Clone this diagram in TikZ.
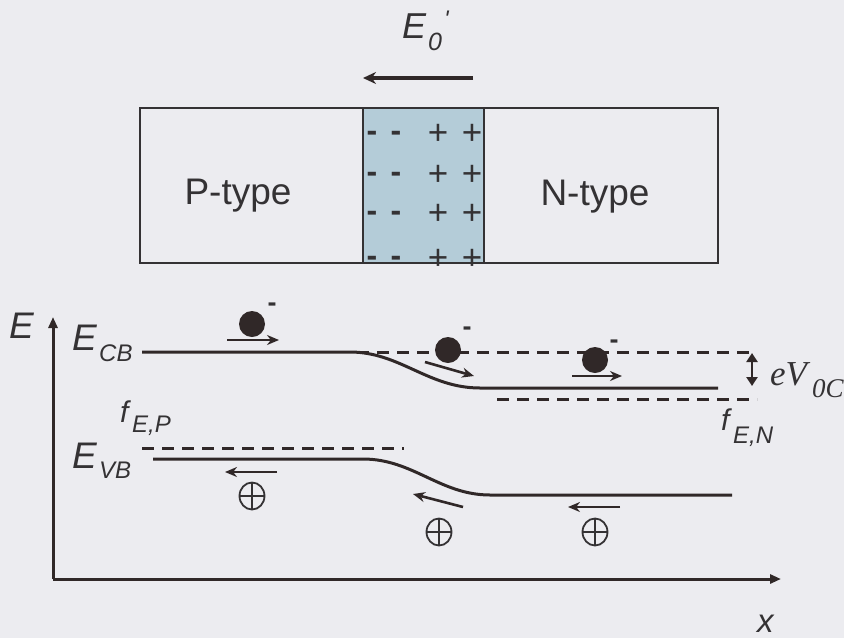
\documentclass[tikz,border=0pt]{standalone}
\usepackage{fontspec}
\setmainfont{Liberation Sans}
\newfontfamily\tnr{Liberation Serif}
\usetikzlibrary{arrows.meta,shapes.geometric}
\definecolor{bg}{RGB}{236,236,240}
\definecolor{ink}{RGB}{48,40,40}
\definecolor{txt}{RGB}{52,50,52}
\definecolor{depl}{RGB}{180,204,216}
\tikzset{
  band/.style={ink, line width=3pt},
  fermi/.style={ink, line width=3pt, dash pattern=on 12pt off 8pt},
  lbl/.style={inner sep=0pt, anchor=base west, text=txt},
  ctr/.style={inner sep=0pt, anchor=base, text=txt},
  bigit/.style={lbl, font=\fontsize{37}{37}\selectfont\itshape},
  midit/.style={lbl, font=\fontsize{30}{30}\selectfont\itshape},
  subit/.style={lbl, font=\fontsize{24}{24}\selectfont\itshape},
  chg/.style={ctr, font=\fontsize{35}{35}\selectfont},
  mchg/.style={ctr, font=\fontsize{32}{32}\selectfont\bfseries},
  emin/.style={ctr, font=\fontsize{27}{27}\selectfont\bfseries},
  elec/.style={circle, fill=ink, minimum size=26pt, inner sep=0pt},
  hole/.style={ellipse, draw=txt, line width=1.8pt, minimum width=25pt, minimum height=27pt, inner sep=0pt,
    path picture={\draw[txt, line width=1.8pt] (path picture bounding box.north) -- (path picture bounding box.south)
      (path picture bounding box.west) -- (path picture bounding box.east);}},
  move/.style={ink, line width=2.6pt, -{Stealth[length=12pt,width=10pt]}},
}
\begin{document}
\begin{tikzpicture}[x=1pt,y=-1pt]
\fill[bg] (0,0) rectangle (844,638);
\useasboundingbox (0,0) rectangle (844,638);

% ---- top: field label and arrow
\node[lbl, font=\fontsize{36}{36}\selectfont\itshape] (e0) at (402,38) {E};
\node[lbl, font=\fontsize{25}{25}\selectfont\itshape] (e0s) at (428,50) {0};
\node[subit] (e0p) at (444,27) {\textquotesingle};
\coordinate (fa) at (473,78);
\coordinate (fb) at (363,78);
\draw[ink, line width=4pt, -{Stealth[length=13pt,width=12pt]}] (fa) -- (fb);

% ---- junction block
\fill[depl] (363,108) rectangle (484,263);
\draw[txt, line width=1.5pt] (140,108) rectangle (718,263);
\draw[txt, line width=1.5pt] (363,108) -- (363,263) (484,108) -- (484,263);
\node[ctr, font=\fontsize{37}{37}\selectfont] (ptype) at (238,204) {P-type};
\node[ctr, font=\fontsize{37}{37}\selectfont] (ntype) at (595,205) {N-type};
\foreach \y/\n in {132/1,173/2,212/3,257/4}{
  \node[mchg] (m1\n) at (372,\y+9) {-};
  \node[mchg] (m2\n) at (396,\y+9) {-};
  \node[chg] (p1\n) at (438,\y+12) {+};
  \node[chg] (p2\n) at (472,\y+12) {+};
}

% ---- axes
\coordinate (o) at (53,579);
\coordinate (ytop) at (53,317);
\coordinate (xend) at (781,579);
\draw[ink, line width=3pt, -{Triangle[length=11pt,width=9pt]}] (o) -- (ytop);
\draw[ink, line width=3pt, -{Triangle[length=11pt,width=9pt]}] (o) -- (xend);
\node[bigit] (elab) at (9,338) {E};
\node[lbl, font=\fontsize{33}{33}\selectfont\itshape] (xlab) at (757,632) {x};

% ---- band labels
\node[bigit] (ecb) at (72,350) {E};
\node[subit] (ecbs) at (99,361) {CB};
\node[bigit] (evb) at (72,468) {E};
\node[subit] (evbs) at (99,478) {VB};
\node[midit] (fp) at (120,422) {f};
\node[subit] (fps) at (132,432) {E,P};
\node[midit] (fn) at (721,430) {f};
\node[subit] (fns) at (733,443) {E,N};
\node[lbl, font=\tnr\itshape\fontsize{35}{35}\selectfont] (ev) at (770,385) {eV};
\node[lbl, font=\tnr\itshape\fontsize{27}{27}\selectfont] (evs) at (812,397) {0C};

% ---- bands
\draw[band] (142,352) -- (350,352) .. controls (400,352) and (428,388) .. (480,388) -- (718,388);
\draw[band] (153,459) -- (363,459) .. controls (413,459) and (440,495) .. (490,495) -- (732,495);
\draw[fermi] (357,352) -- (750,352);
\draw[fermi] (497,399) -- (757,399);
\draw[fermi] (142,448) -- (404,448);
\coordinate (vt) at (752,353);
\coordinate (vb) at (752,386);
\draw[ink, line width=2.5pt, {Triangle[length=9pt,width=11pt]}-{Triangle[length=9pt,width=11pt]}] (vt) -- (vb);

% ---- electrons
\node[elec] (el1) at (252,324) {};
\node[elec] (el2) at (448,350) {};
\node[elec] (el3) at (595,360) {};
\node[emin] (el1m) at (272,311) {-};
\node[emin] (el2m) at (467,335) {-};
\node[emin] (el3m) at (614,348) {-};
\coordinate (a1s) at (227,340); \coordinate (a1e) at (279,340);
\coordinate (a2s) at (425,362); \coordinate (a2e) at (474,376);
\coordinate (a3s) at (572,376); \coordinate (a3e) at (622,376);
\draw[move] (a1s) -- (a1e);
\draw[move] (a2s) -- (a2e);
\draw[move] (a3s) -- (a3e);

% ---- holes
\node[hole] (h1) at (252,496) {};
\node[hole] (h2) at (439,532) {};
\node[hole] (h3) at (595,532) {};
\coordinate (b1s) at (277,472); \coordinate (b1e) at (225,472);
\coordinate (b2s) at (463,507); \coordinate (b2e) at (413,494);
\coordinate (b3s) at (620,507); \coordinate (b3e) at (568,507);
\draw[move] (b1s) -- (b1e);
\draw[move] (b2s) -- (b2e);
\draw[move] (b3s) -- (b3e);
\end{tikzpicture}
\end{document}
